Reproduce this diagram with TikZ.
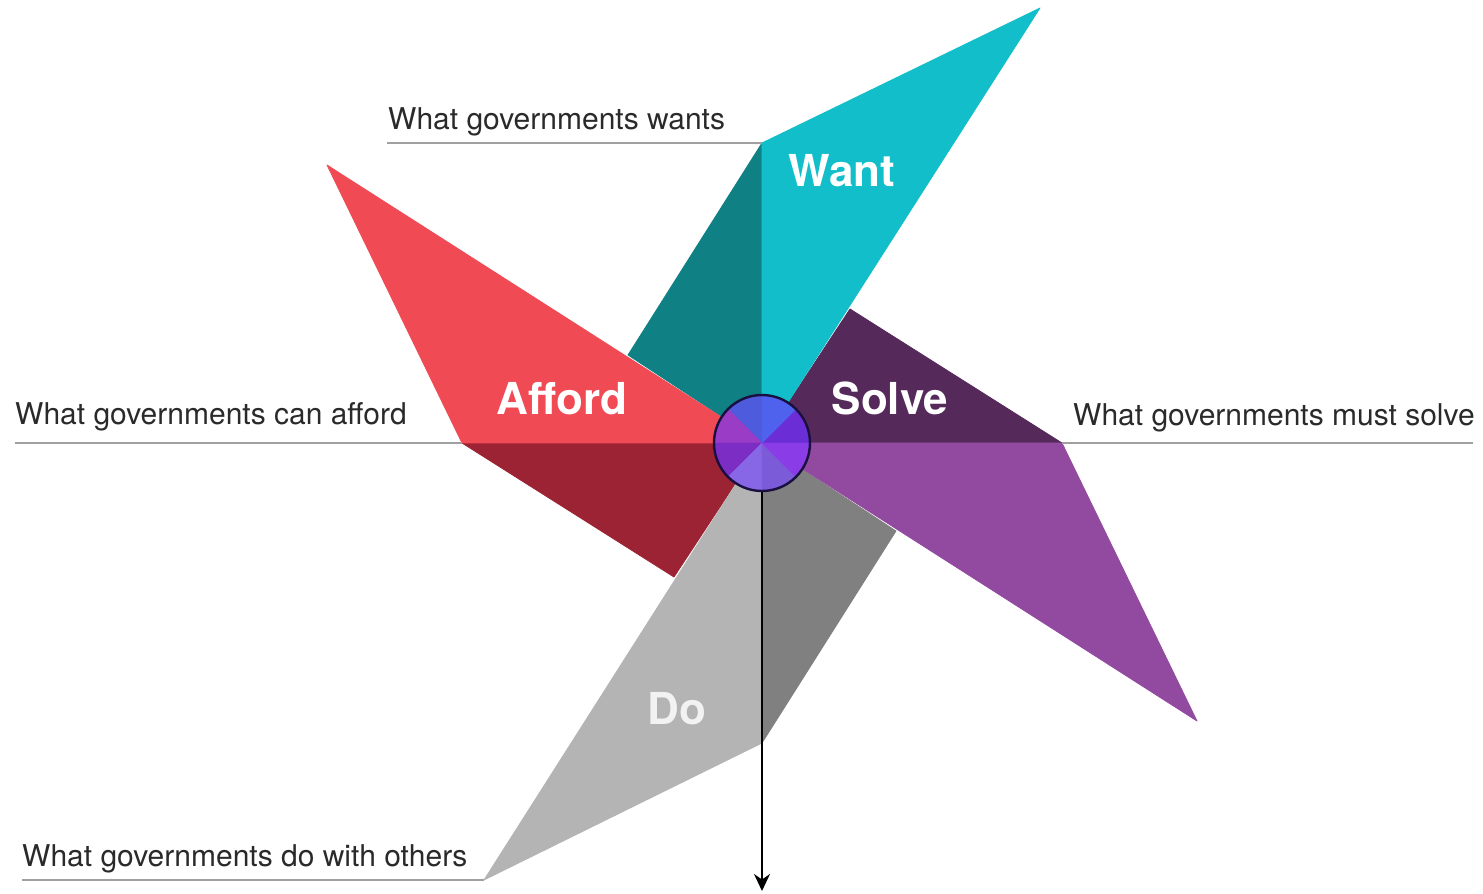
\documentclass[tikz,border=0pt]{standalone}
\usepackage{fontspec}
\setmainfont{TeX Gyre Heros}
\usetikzlibrary{arrows.meta}
\definecolor{wantL}{HTML}{12BEC9}
\definecolor{wantD}{HTML}{0F8084}
\definecolor{solveL}{HTML}{924AA0}
\definecolor{solveD}{HTML}{552A5B}
\definecolor{doL}{HTML}{B4B4B4}
\definecolor{doD}{HTML}{808080}
\definecolor{affL}{HTML}{F04A54}
\definecolor{affD}{HTML}{9B2333}
\definecolor{lineG}{HTML}{A0A0A0}
\definecolor{txtG}{HTML}{2A2A2A}
\definecolor{ringC}{HTML}{1A1040}
\definecolor{s1}{HTML}{6B2ED6}
\definecolor{s2}{HTML}{4F62EE}
\definecolor{s3}{HTML}{4D5BDC}
\definecolor{s4}{HTML}{9A3CC6}
\definecolor{s5}{HTML}{7B2DC4}
\definecolor{s6}{HTML}{8767E6}
\definecolor{s7}{HTML}{7B5BD8}
\definecolor{s8}{HTML}{8A3DE6}
\tikzset{
  guide/.style={draw=lineG, line width=1.6pt},
  caption/.style={font=\fontsize{30}{36}\selectfont, text=txtG, inner sep=0pt, anchor=base west},
  bladelabel/.style={font=\fontsize{44}{52}\selectfont\bfseries, text=white, inner sep=0pt, anchor=base},
  facet/.style={fill=#1, draw=#1, line width=0.8pt, line join=round},
}
\begin{document}
\begin{tikzpicture}[x=1pt,y=1pt]
\useasboundingbox (-762,443) rectangle (721,-451);
\coordinate (C) at (0,0);
% axis points, tips and inner points
\coordinate (Aw) at (0,300);   \coordinate (Tw) at (278,435);   \coordinate (Pw) at (-134,88);
\coordinate (As) at (300,0);   \coordinate (Ts) at (435,-278);  \coordinate (Ps) at (88,134);
\coordinate (Ad) at (0,-300);  \coordinate (Td) at (-278,-437); \coordinate (Pd) at (134,-88);
\coordinate (Aa) at (-300,0);  \coordinate (Ta) at (-435,278);  \coordinate (Pa) at (-88,-134);
% blades
\path[facet=wantD] (C) -- (Aw) -- (Pw) -- cycle;
\path[facet=solveD] (C) -- (As) -- (Ps) -- cycle;
\path[facet=doD] (C) -- (Ad) -- (Pd) -- cycle;
\path[facet=affD] (C) -- (Aa) -- (Pa) -- cycle;
\path[facet=wantL] (C) -- (Aw) -- (Tw) -- cycle;
\path[facet=solveL] (C) -- (As) -- (Ts) -- cycle;
\path[facet=doL] (C) -- (Ad) -- (Td) -- cycle;
\path[facet=affL] (C) -- (Aa) -- (Ta) -- cycle;
% guide lines and captions
\coordinate (Lw) at (-375,300);
\coordinate (La) at (-747,0);
\coordinate (Ls) at (711,0);
\coordinate (Ld) at (-740,-437);
\draw[guide] (Lw) -- (Aw);
\draw[guide] (La) -- (Aa);
\draw[guide] (As) -- (Ls);
\draw[guide] (Ld) -- (Td);
\node[caption] (cw) at (-374,313) {What governments wants};
\node[caption] (ca) at (-747,18) {What governments can afford};
\node[caption] (cs) at (311,17) {What governments must solve};
\node[caption] (cd) at (-740,-423) {What governments do with others};
% blade labels
\node[bladelabel] (lw) at (80,256) {Want};
\node[bladelabel] (la) at (-200,28) {Afford};
\node[bladelabel] (ls) at (128,28) {Solve};
\node[bladelabel, text=white!95!black] (ld) at (-85,-281) {Do};
% hub
\foreach \a/\c in {0/s1,45/s2,90/s3,135/s4,180/s5,225/s6,270/s7,315/s8}
  \path[facet=\c, line width=0.4pt] (C) -- (\a:48) arc[start angle=\a, end angle=\a+45, radius=48] -- cycle;
\node[circle, draw=ringC, line width=2.4pt, minimum size=96pt, inner sep=0pt] (hub) at (C) {};
\coordinate (end) at (0,-448);
\draw[line width=1.8pt, -{Stealth[length=17pt,width=16pt]}] (hub.south) -- (end);
\end{tikzpicture}
\end{document}
